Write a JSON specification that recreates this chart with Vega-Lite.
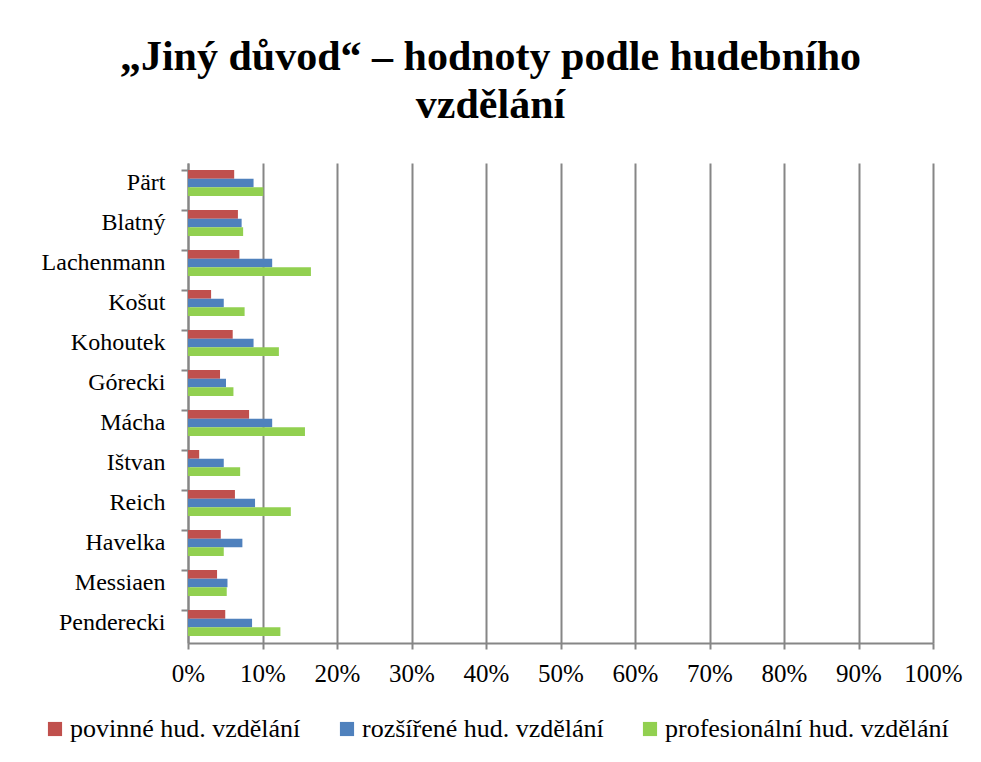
{
  "$schema": "https://vega.github.io/schema/vega-lite/v6.json",
  "autosize": {"type": "none"},
  "padding": {"left": 188, "top": 163, "right": 48, "bottom": 119},
  "width": 745,
  "height": 480,
  "background": "white",
  "title": {
    "text": ["„Jiný důvod“ – hodnoty podle hudebního", "vzdělání"],
    "font": "Liberation Serif",
    "fontSize": 42,
    "fontWeight": "bold",
    "color": "black",
    "anchor": "middle",
    "frame": "group",
    "dx": -70,
    "lineHeight": 48,
    "offset": 36
  },
  "data": {
    "values": [
      {"skladatel": "Pärt", "skupina": "povinné hud. vzdělání", "hodnota": 0.062},
      {"skladatel": "Pärt", "skupina": "rozšířené hud. vzdělání", "hodnota": 0.088},
      {"skladatel": "Pärt", "skupina": "profesionální hud. vzdělání", "hodnota": 0.101},
      {"skladatel": "Blatný", "skupina": "povinné hud. vzdělání", "hodnota": 0.067},
      {"skladatel": "Blatný", "skupina": "rozšířené hud. vzdělání", "hodnota": 0.072},
      {"skladatel": "Blatný", "skupina": "profesionální hud. vzdělání", "hodnota": 0.074},
      {"skladatel": "Lachenmann", "skupina": "povinné hud. vzdělání", "hodnota": 0.069},
      {"skladatel": "Lachenmann", "skupina": "rozšířené hud. vzdělání", "hodnota": 0.113},
      {"skladatel": "Lachenmann", "skupina": "profesionální hud. vzdělání", "hodnota": 0.165},
      {"skladatel": "Košut", "skupina": "povinné hud. vzdělání", "hodnota": 0.031},
      {"skladatel": "Košut", "skupina": "rozšířené hud. vzdělání", "hodnota": 0.048},
      {"skladatel": "Košut", "skupina": "profesionální hud. vzdělání", "hodnota": 0.076},
      {"skladatel": "Kohoutek", "skupina": "povinné hud. vzdělání", "hodnota": 0.060},
      {"skladatel": "Kohoutek", "skupina": "rozšířené hud. vzdělání", "hodnota": 0.088},
      {"skladatel": "Kohoutek", "skupina": "profesionální hud. vzdělání", "hodnota": 0.122},
      {"skladatel": "Górecki", "skupina": "povinné hud. vzdělání", "hodnota": 0.043},
      {"skladatel": "Górecki", "skupina": "rozšířené hud. vzdělání", "hodnota": 0.051},
      {"skladatel": "Górecki", "skupina": "profesionální hud. vzdělání", "hodnota": 0.061},
      {"skladatel": "Mácha", "skupina": "povinné hud. vzdělání", "hodnota": 0.082},
      {"skladatel": "Mácha", "skupina": "rozšířené hud. vzdělání", "hodnota": 0.113},
      {"skladatel": "Mácha", "skupina": "profesionální hud. vzdělání", "hodnota": 0.157},
      {"skladatel": "Ištvan", "skupina": "povinné hud. vzdělání", "hodnota": 0.015},
      {"skladatel": "Ištvan", "skupina": "rozšířené hud. vzdělání", "hodnota": 0.048},
      {"skladatel": "Ištvan", "skupina": "profesionální hud. vzdělání", "hodnota": 0.070},
      {"skladatel": "Reich", "skupina": "povinné hud. vzdělání", "hodnota": 0.063},
      {"skladatel": "Reich", "skupina": "rozšířené hud. vzdělání", "hodnota": 0.090},
      {"skladatel": "Reich", "skupina": "profesionální hud. vzdělání", "hodnota": 0.138},
      {"skladatel": "Havelka", "skupina": "povinné hud. vzdělání", "hodnota": 0.044},
      {"skladatel": "Havelka", "skupina": "rozšířené hud. vzdělání", "hodnota": 0.073},
      {"skladatel": "Havelka", "skupina": "profesionální hud. vzdělání", "hodnota": 0.048},
      {"skladatel": "Messiaen", "skupina": "povinné hud. vzdělání", "hodnota": 0.039},
      {"skladatel": "Messiaen", "skupina": "rozšířené hud. vzdělání", "hodnota": 0.053},
      {"skladatel": "Messiaen", "skupina": "profesionální hud. vzdělání", "hodnota": 0.052},
      {"skladatel": "Penderecki", "skupina": "povinné hud. vzdělání", "hodnota": 0.050},
      {"skladatel": "Penderecki", "skupina": "rozšířené hud. vzdělání", "hodnota": 0.086},
      {"skladatel": "Penderecki", "skupina": "profesionální hud. vzdělání", "hodnota": 0.124}
    ]
  },
  "mark": {"type": "bar"},
  "encoding": {
    "y": {
      "field": "skladatel",
      "type": "nominal",
      "sort": null,
      "scale": {"paddingInner": 0.35, "paddingOuter": 0.175},
      "axis": {
        "title": null,
        "bandPosition": 0,
        "labelFont": "Liberation Serif",
        "labelFontSize": 24,
        "labelColor": "black",
        "labelPadding": 16,
        "labelBaseline": "middle",
        "labelLimit": 300,
        "tickColor": "#868686",
        "tickSize": 7,
        "tickWidth": 2,
        "domainColor": "#868686",
        "domainWidth": 2,
        "grid": false
      }
    },
    "yOffset": {
      "field": "skupina",
      "type": "nominal",
      "sort": ["povinné hud. vzdělání", "rozšířené hud. vzdělání", "profesionální hud. vzdělání"],
      "scale": {"paddingInner": 0, "paddingOuter": 0}
    },
    "x": {
      "field": "hodnota",
      "type": "quantitative",
      "scale": {"domain": [0, 1], "nice": false},
      "axis": {
        "title": null,
        "format": ".0%",
        "values": [0, 0.1, 0.2, 0.3, 0.4, 0.5, 0.6, 0.7, 0.8, 0.9, 1],
        "labelFont": "Liberation Serif",
        "labelFontSize": 25,
        "labelColor": "black",
        "labelPadding": 12,
        "tickColor": "#868686",
        "tickSize": 6,
        "tickWidth": 2,
        "domainColor": "#868686",
        "domainWidth": 2,
        "grid": true,
        "gridColor": "#868686",
        "gridWidth": 2,
        "labelFlush": false
      }
    },
    "color": {
      "field": "skupina",
      "type": "nominal",
      "sort": ["povinné hud. vzdělání", "rozšířené hud. vzdělání", "profesionální hud. vzdělání"],
      "scale": {
        "domain": ["povinné hud. vzdělání", "rozšířené hud. vzdělání", "profesionální hud. vzdělání"],
        "range": ["#C0504D", "#4F81BD", "#92D050"]
      },
      "legend": {
        "title": null,
        "orient": "none",
        "direction": "horizontal",
        "legendX": -146,
        "legendY": 553,
        "symbolType": "square",
        "symbolSize": 200,
        "symbolStrokeWidth": 0,
        "labelFont": "Liberation Serif",
        "labelFontSize": 26,
        "labelColor": "black",
        "labelOffset": 2,
        "columnPadding": 33,
        "labelLimit": 400
      }
    }
  },
  "config": {
    "view": {"stroke": null},
    "legend": {"labelFont": "Liberation Serif"}
  }
}
